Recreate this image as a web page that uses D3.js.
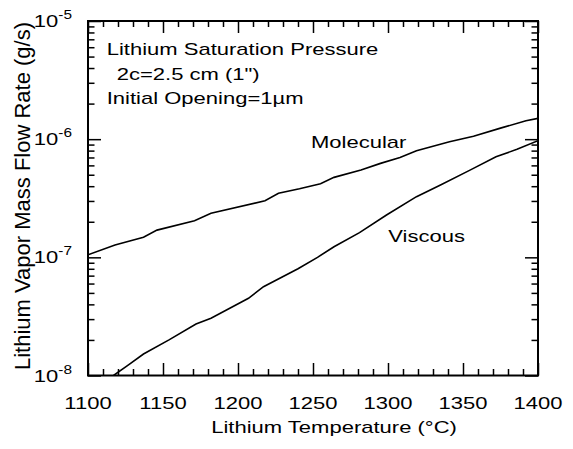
<!DOCTYPE html>
<html><head><meta charset="utf-8">
<script src="https://cdn.jsdelivr.net/npm/d3@7"></script>
<style>body{margin:0;background:#fff}svg{display:block}text{font-family:Arial,"Liberation Sans",Helvetica,sans-serif;fill:#000}</style>
</head><body><svg id="c" width="573" height="449"></svg>
<script>
const xTicks = [1100, 1150, 1200, 1250, 1300, 1350, 1400];
const yTicks = [1e-8, 1e-7, 1e-6, 1e-5];
const yTickExp = ["-8", "-7", "-6", "-5"];
const molecularT = [1100, 1118, 1137, 1146, 1171, 1182, 1218, 1227, 1241, 1255, 1264, 1282, 1295, 1308, 1319, 1341, 1357, 1375, 1392, 1400];
const molecularV = [1.05e-7, 1.27e-7, 1.48e-7, 1.70e-7, 2.04e-7, 2.36e-7, 3.01e-7, 3.48e-7, 3.8e-7, 4.2e-7, 4.75e-7, 5.48e-7, 6.24e-7, 7.0e-7, 7.98e-7, 9.5e-7, 1.06e-6, 1.24e-6, 1.43e-6, 1.50e-6];
const viscousT = [1117, 1127, 1137, 1154, 1172, 1182, 1207, 1217, 1240, 1253, 1264, 1281, 1299, 1319, 1335, 1355, 1372, 1386, 1400];
const viscousV = [1.0e-8, 1.23e-8, 1.52e-8, 2.0e-8, 2.73e-8, 3.05e-8, 4.5e-8, 5.64e-8, 8.0e-8, 1.0e-7, 1.23e-7, 1.62e-7, 2.28e-7, 3.26e-7, 4.1e-7, 5.5e-7, 7.1e-7, 8.2e-7, 9.7e-7];
const notes = ["Lithium Saturation Pressure", "2c=2.5 cm (1\")", "Initial Opening=1µm"];

const L = 88, R = 538, T = 21, B = 375.5;
const SX = 1.28, FS = 17.2;
const svg = d3.select("#c");
const x = d3.scaleLinear().domain([1100, 1400]).range([L, R]);
const y = d3.scaleLog().domain([1e-8, 1e-5]).range([B, T]);

const xMinor = d3.range(1100, 1401, 10).filter(v => v % 50 !== 0);
const yMinor = [];
[1e-8, 1e-7, 1e-6].forEach(d => { for (let k = 2; k <= 9; k++) yMinor.push(d * k); });

function ax(gen, tr) {
  const g = svg.append("g").attr("transform", tr).call(gen);
  g.select(".domain").remove();
  g.selectAll("line").attr("stroke", "#000").attr("stroke-width", 1.5);
  g.selectAll("text").remove();
}
ax(d3.axisBottom(x).tickValues(xTicks).tickSize(-12.5), `translate(0,${B})`);
ax(d3.axisBottom(x).tickValues(xMinor).tickSize(-6.5), `translate(0,${B})`);
ax(d3.axisTop(x).tickValues(xTicks).tickSize(-12), `translate(0,${T})`);
ax(d3.axisTop(x).tickValues(xMinor).tickSize(-6), `translate(0,${T})`);
ax(d3.axisLeft(y).tickValues(yTicks).tickSize(-13), `translate(${L},0)`);
ax(d3.axisLeft(y).tickValues(yMinor).tickSize(-6.5), `translate(${L},0)`);
ax(d3.axisRight(y).tickValues(yTicks).tickSize(-13), `translate(${R},0)`);
ax(d3.axisRight(y).tickValues(yMinor).tickSize(-6.5), `translate(${R},0)`);

svg.append("rect").attr("x", L).attr("y", T).attr("width", R - L).attr("height", B - T)
  .attr("fill", "none").attr("stroke", "#000").attr("stroke-width", 2);

function txt(px, py, s, anchor, fs) {
  return svg.append("text").attr("transform", `translate(${px},${py}) scale(${SX},1)`)
    .attr("text-anchor", anchor || "start").attr("font-size", fs || FS).text(s);
}

// x tick labels
xTicks.forEach(v => txt(x(v), 409, v, "middle"));
// y tick labels
yTicks.forEach((v, i) => {
  const t = svg.append("text").attr("transform", `translate(72,${y(v) + 6}) scale(${SX},1)`)
    .attr("text-anchor", "end").attr("font-size", FS);
  t.append("tspan").text("10");
  t.append("tspan").attr("font-size", 12).attr("dy", -8).text(yTickExp[i]);
});

txt(334, 433, "Lithium Temperature (°C)", "middle");
svg.append("text").attr("transform", "translate(30,196) rotate(-90)").attr("text-anchor", "middle")
  .attr("font-size", 22).text("Lithium Vapor Mass Flow Rate (g/s)");

txt(106.7, 55, notes[0]);
txt(116.7, 80, notes[1]);
txt(106.7, 104.3, notes[2]);

txt(311, 147.7, "Molecular");
txt(388.3, 241.7, "Viscous");

svg.append("clipPath").attr("id", "pc").append("rect").attr("x", L).attr("y", T).attr("width", R - L).attr("height", B - T);
const line = d3.line().x(d => x(d[0])).y(d => y(d[1]));
[[molecularT, molecularV], [viscousT, viscousV]].forEach(([ts, vs]) => {
  svg.append("path").datum(ts.map((t, i) => [t, vs[i]])).attr("d", line)
    .attr("fill", "none").attr("stroke", "#000").attr("stroke-width", 1.6).attr("clip-path", "url(#pc)");
});
</script></body></html>
